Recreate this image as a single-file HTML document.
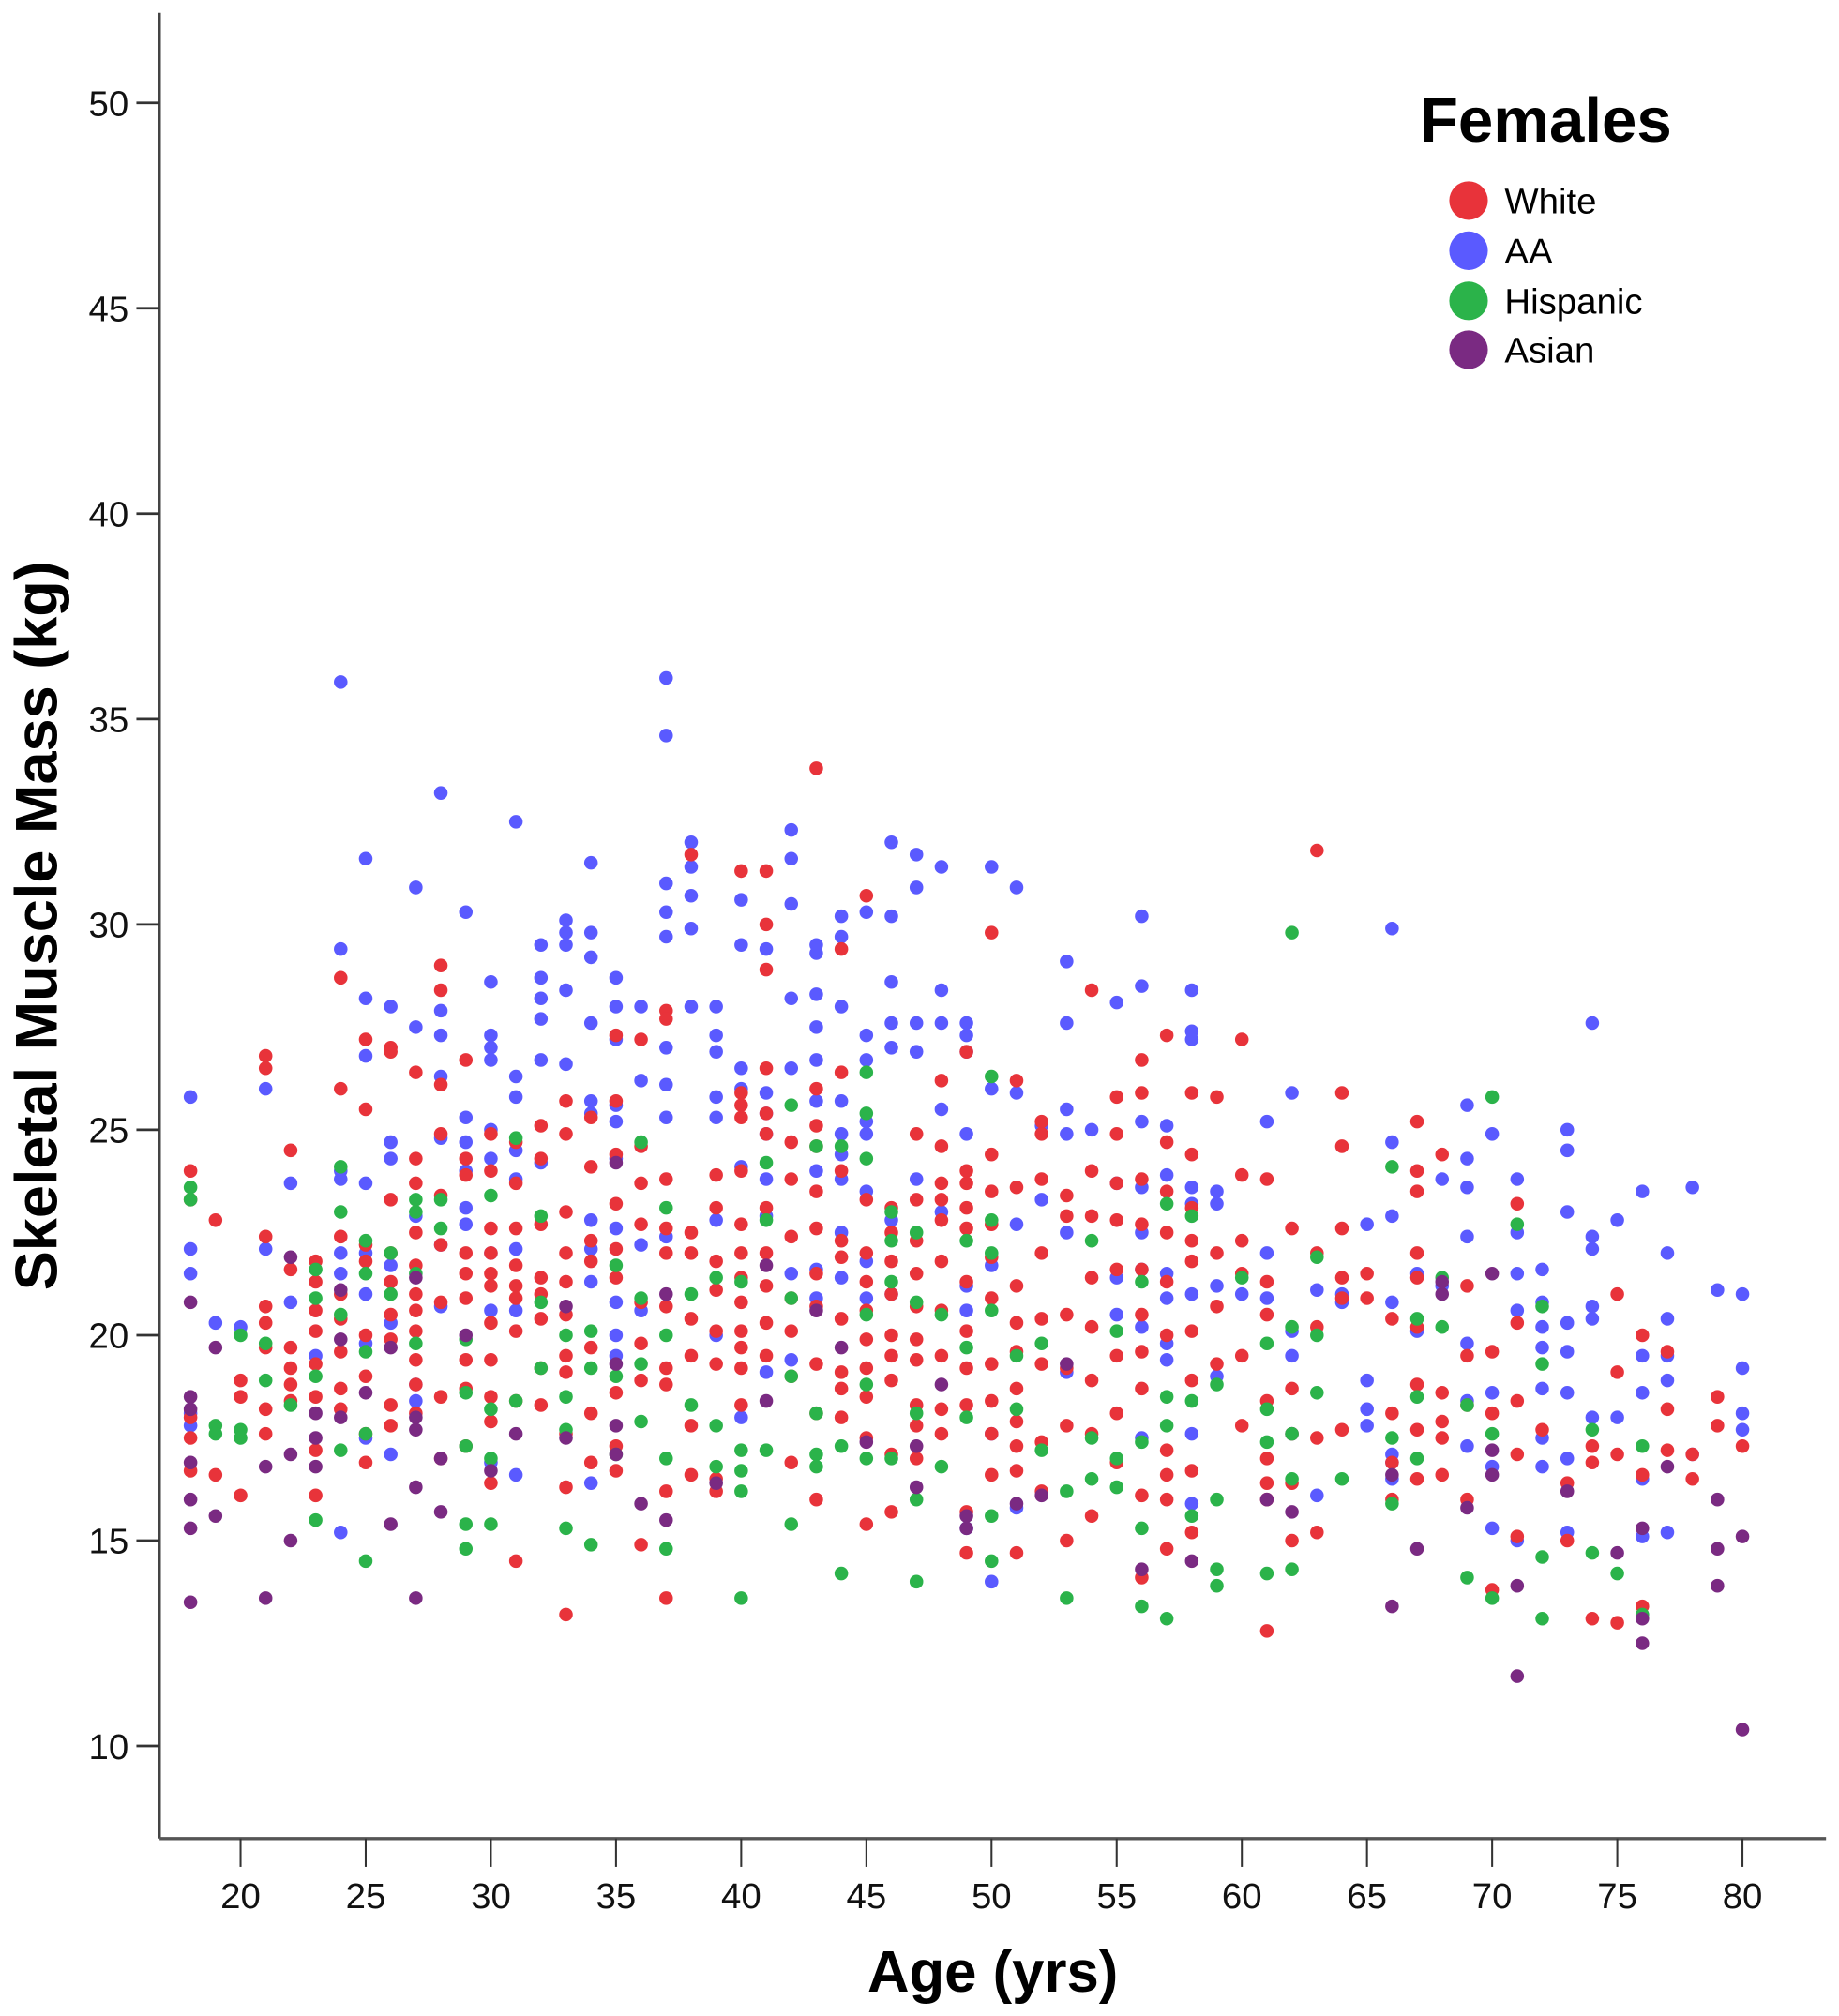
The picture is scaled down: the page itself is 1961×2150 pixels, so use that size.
<!DOCTYPE html>
<html><head><meta charset="utf-8"><style>
html,body{margin:0;padding:0;background:#fff;}
svg{display:block;font-family:"Liberation Sans",sans-serif;}
</style></head><body>
<svg id="chart" width="1961" height="2150" viewBox="0 0 1430 1568" xmlns="http://www.w3.org/2000/svg">
<g id="axes"></g>
<g id="points"></g>
<g id="legend">
<text x="1104" y="110" font-size="49" font-weight="bold">Females</text>
<circle cx="1142" cy="156" r="15" fill="#e8333a"/>
<text x="1170" y="166" font-size="28">White</text>
<circle cx="1142" cy="195" r="15" fill="#5a5aff"/>
<text x="1170" y="205" font-size="28">AA</text>
<circle cx="1142" cy="234" r="15" fill="#2bb34a"/>
<text x="1170" y="244" font-size="28">Hispanic</text>
<circle cx="1142" cy="272" r="15" fill="#7a2a82"/>
<text x="1170" y="282" font-size="28">Asian</text>
</g>
<text x="772" y="1549" font-size="45" font-weight="bold" text-anchor="middle">Age (yrs)</text>
<text transform="translate(44,720) rotate(-90)" font-size="46" font-weight="bold" text-anchor="middle">Skeletal Muscle Mass (kg)</text>
</svg>
<script>
const xTicks = [20,25,30,35,40,45,50,55,60,65,70,75,80];
const yTicks = [10,15,20,25,30,35,40,45,50];
const whiteData = [[18,[24.0,23.3,18.0,17.5,16.7]],[19,[22.8,16.6]],[20,[18.9,18.5,16.1]],[21,[26.8,26.5,22.4,20.7,20.3,19.7,18.2,17.6]],[22,[24.5,21.6,19.7,19.2,18.8,18.4]],[23,[21.8,21.3,20.6,20.1,19.3,18.5,17.2,16.1]],[24,[28.7,26.0,22.4,21.0,20.4,19.6,18.7,18.2]],[25,[27.2,25.5,22.2,21.8,20.0,19.0,17.6,16.9]],[26,[27.0,26.9,23.3,22.0,21.3,20.5,19.9,18.3,17.8]],[27,[26.4,24.3,23.7,22.5,21.7,21.0,20.6,20.1,19.4,18.8,18.1]],[28,[29.0,28.4,26.1,24.9,23.4,22.2,20.8,18.5,17.0]],[29,[26.7,24.3,23.9,22.0,21.5,20.9,19.4,18.7,17.3]],[30,[24.9,24.0,22.6,22.0,21.5,21.2,20.3,19.4,18.5,17.9,16.4]],[31,[24.7,23.7,22.6,21.7,21.2,20.9,20.1,18.4,14.5]],[32,[25.1,24.3,22.7,21.4,21.0,20.4,19.2,18.3]],[33,[25.7,24.9,23.0,22.0,21.3,20.5,19.5,19.1,17.6,16.3,13.2]],[34,[25.3,24.1,22.3,21.8,19.7,18.1,16.9]],[35,[27.3,25.7,24.4,23.2,22.1,21.4,18.6,17.3,16.7]],[36,[27.2,24.6,23.7,22.7,20.8,19.8,18.9,14.9]],[37,[27.9,27.7,23.8,22.6,22.0,20.7,19.2,18.8,16.2,13.6]],[38,[31.7,22.5,22.0,20.4,19.5,17.8,16.6]],[39,[23.9,23.1,21.8,21.1,20.1,19.3,16.5,16.2]],[40,[31.3,25.9,25.6,25.3,24.0,22.7,22.0,21.4,20.8,20.1,19.7,19.2,18.3]],[41,[31.3,30.0,28.9,26.5,25.4,24.9,23.1,22.0,21.2,20.3,19.5]],[42,[24.7,23.8,22.4,20.9,20.1,19.0,16.9]],[43,[33.8,26.0,25.1,24.6,23.5,22.6,21.5,20.7,19.3,18.1,16.0]],[44,[29.4,26.4,24.0,22.3,21.9,20.4,19.1,18.7,18.0]],[45,[30.7,23.3,22.0,21.3,20.6,19.9,19.2,18.5,17.5,15.4]],[46,[23.1,22.5,21.8,21.0,20.0,19.5,18.9,17.1,15.7]],[47,[24.9,23.3,22.3,21.5,20.7,19.9,19.4,18.3,17.8,17.0]],[48,[26.2,24.6,23.7,23.3,22.8,21.8,20.6,19.5,18.2,17.6]],[49,[26.9,24.0,23.7,23.1,22.6,21.3,20.1,19.2,18.3,15.7,14.7]],[50,[29.8,24.4,23.5,22.7,21.9,20.9,19.3,18.4,17.6,16.6]],[51,[26.2,23.6,21.2,20.3,19.6,18.7,17.9,17.3,16.7,14.7]],[52,[25.2,24.9,23.8,22.0,20.4,19.3,17.4,16.2]],[53,[23.4,22.9,20.5,19.2,17.8,15.0]],[54,[28.4,24.0,22.9,21.4,20.2,18.9,17.6,15.6]],[55,[25.8,24.9,23.7,22.8,21.6,19.5,18.1,16.9]],[56,[26.7,25.9,23.8,22.7,21.6,20.5,19.6,18.7,16.1,14.1]],[57,[27.3,24.7,23.5,22.5,21.3,20.0,17.2,16.6,16.0,14.8]],[58,[25.9,24.4,23.1,22.3,21.8,20.1,18.9,16.7,15.2]],[59,[25.8,22.0,20.7,19.3]],[60,[27.2,23.9,22.3,21.5,19.5,17.8]],[61,[23.8,21.3,20.5,18.4,17.0,16.4,16.0,12.8]],[62,[22.6,18.7,17.6,16.4,15.0]],[63,[31.8,22.0,20.2,17.5,15.2]],[64,[25.9,24.6,22.6,21.4,20.9,17.7]],[65,[21.5,20.9]],[66,[20.4,18.1,16.9,16.0]],[67,[25.2,24.0,23.5,22.0,21.4,20.2,18.8,17.7,16.5]],[68,[24.4,18.6,17.9,17.5,16.6]],[69,[21.2,19.5,18.3,16.0]],[70,[19.6,18.1,13.8]],[71,[23.2,20.3,18.4,17.1,15.1]],[72,[17.7]],[73,[16.4,15.0]],[74,[17.3,16.9,13.1]],[75,[21.0,19.1,17.1,13.0]],[76,[20.0,16.6,13.4]],[77,[19.6,18.2,17.2]],[78,[17.1,16.5]],[79,[18.5,17.8]],[80,[17.3]]];
const aaData = [[18,[25.8,22.1,21.5,18.1,17.8]],[19,[20.3]],[20,[20.2]],[21,[26.0,22.1]],[22,[23.7,20.8]],[23,[19.5]],[24,[35.9,29.4,24.0,23.8,22.0,21.5,15.2]],[25,[31.6,28.2,26.8,23.7,22.0,21.0,19.8,17.5]],[26,[28.0,24.7,24.3,21.7,20.3,17.1]],[27,[30.9,27.5,22.9,18.8,18.4]],[28,[33.2,27.9,27.3,26.3,24.8,22.2,20.7]],[29,[30.3,25.3,24.7,24.0,23.1,22.7]],[30,[28.6,27.3,27.0,26.7,25.0,24.3,22.0,20.6,16.9]],[31,[32.5,26.3,25.8,24.5,23.8,22.1,20.6,16.6]],[32,[29.5,28.7,28.2,27.7,26.7,24.2]],[33,[30.1,29.8,29.5,28.4,26.6]],[34,[31.5,29.8,29.2,27.6,25.7,25.4,22.8,22.1,21.3,16.4]],[35,[28.7,28.0,27.2,25.6,25.2,24.3,22.6,20.8,20.0,19.5]],[36,[28.0,26.2,22.2,20.6]],[37,[36.0,34.6,31.0,30.3,29.7,27.0,26.1,25.3,22.4]],[38,[32.0,31.4,30.7,29.9,28.0]],[39,[28.0,27.3,26.9,25.8,25.3,22.8,20.0]],[40,[30.6,29.5,26.5,26.0,24.1,18.0]],[41,[29.4,25.9,25.4,24.9,23.8,22.9,19.1]],[42,[32.3,31.6,30.5,28.2,26.5,21.5,19.4]],[43,[29.5,29.3,28.3,27.5,26.7,25.7,24.0,21.6,20.9]],[44,[30.2,29.7,28.0,25.7,24.9,24.4,23.8,22.5,21.4]],[45,[30.3,27.3,26.7,25.2,24.9,23.5,21.8,20.9]],[46,[32.0,30.2,28.6,27.6,27.0,22.8,21.0]],[47,[31.7,30.9,27.6,26.9,23.8]],[48,[31.4,28.4,27.6,25.5,23.0]],[49,[27.6,27.3,26.9,24.9,21.2,20.6,15.3]],[50,[31.4,26.0,21.7,17.6,14.0]],[51,[30.9,25.9,22.7,15.8]],[52,[25.1,23.3]],[53,[29.1,27.6,25.5,24.9,22.5,19.1]],[54,[25.0]],[55,[28.1,23.7,21.4,20.5]],[56,[30.2,28.5,25.2,23.6,22.5,21.6,20.2,17.5]],[57,[25.1,23.9,21.5,20.9,19.8,19.4]],[58,[28.4,27.4,27.2,23.6,23.2,21.0,17.6,15.9]],[59,[23.5,23.2,21.2,19.0]],[60,[21.0]],[61,[25.2,22.0,20.9]],[62,[25.9,20.1,19.5,17.6]],[63,[21.1,16.1]],[64,[21.0,20.8]],[65,[22.7,18.9,18.2,17.8]],[66,[29.9,24.7,22.9,20.8,17.1,16.9,16.5]],[67,[21.5,20.1]],[68,[23.8,21.2]],[69,[25.6,24.3,23.6,22.4,19.8,18.4,17.3]],[70,[24.9,18.6,16.8,15.3]],[71,[23.8,22.5,21.5,20.6,15.0]],[72,[21.6,20.8,20.2,19.7,18.7,16.8,17.5]],[73,[25.0,24.5,23.0,20.3,19.6,18.6,17.0,15.2]],[74,[27.6,22.4,22.1,20.7,20.4,18.0]],[75,[22.8,18.0]],[76,[23.5,19.5,18.6,16.5,15.1]],[77,[22.0,20.4,19.5,18.9,15.2]],[78,[23.6,17.1]],[79,[21.1]],[80,[21.0,19.2,18.1,17.7]]];
const hispanicData = [[18,[23.6,23.3]],[19,[17.8,17.6]],[20,[17.7,17.5,20.0]],[21,[19.8,18.9]],[22,[18.3]],[23,[21.6,20.9,19.0,15.5]],[24,[24.1,23.0,20.5,17.2]],[25,[22.3,21.5,19.6,17.6,14.5]],[26,[22.0,21.0]],[27,[23.3,23.0,21.5,19.8]],[28,[23.3,22.6]],[29,[19.9,18.6,17.3,15.4,14.8]],[30,[23.4,18.2,17.0,15.4]],[31,[24.8,18.4]],[32,[22.9,20.8,19.2]],[33,[20.0,18.5,17.7,15.3]],[34,[20.1,19.2,14.9]],[35,[21.7,19.0,17.1]],[36,[24.7,20.9,19.3,17.9]],[37,[23.1,20.0,17.0,14.8]],[38,[21.0,18.3]],[39,[21.4,17.8,16.8]],[40,[21.3,17.2,16.7,16.2,13.6]],[41,[24.2,22.8,17.2]],[42,[25.6,20.9,19.0,15.4]],[43,[24.6,18.1,17.1,16.8]],[44,[24.6,17.3,14.2]],[45,[26.4,25.4,24.3,20.5,18.8,17.0]],[46,[23.0,22.3,21.3,17.0]],[47,[22.5,20.8,18.1,16.0,14.0]],[48,[20.5,16.8]],[49,[22.3,19.7,18.0]],[50,[26.3,22.8,22.0,20.6,15.6,14.5]],[51,[19.5,18.2]],[52,[19.8,17.2]],[53,[16.2,13.6]],[54,[22.3,17.5,16.5]],[55,[20.1,17.0,16.3]],[56,[21.3,17.4,15.3,13.4]],[57,[23.2,18.5,17.8,13.1]],[58,[22.9,18.4,15.6]],[59,[14.3,13.9,16.0,18.8]],[60,[21.4]],[61,[19.8,18.2,17.4,14.2]],[62,[29.8,20.2,17.6,16.5,14.3]],[63,[21.9,20.0,18.6]],[64,[16.5]],[66,[24.1,17.5,15.9]],[67,[20.4,18.5,17.0]],[68,[21.4,20.2]],[69,[18.3,14.1]],[70,[25.8,17.6,13.6]],[71,[22.7]],[72,[20.7,19.3,14.6,13.1]],[74,[17.7,14.7]],[75,[14.2]],[76,[17.3,13.2]]];
const asianData = [[18,[20.8,18.5,18.2,16.9,16.0,15.3,13.5]],[19,[19.7,15.6]],[21,[16.8,13.6]],[22,[21.9,17.1,15.0]],[23,[18.1,17.5,16.8]],[24,[21.1,19.9,18.0]],[25,[18.6]],[26,[19.7,15.4]],[27,[21.4,18.0,17.7,16.3,13.6]],[28,[17.0,15.7]],[29,[20.0]],[30,[16.7]],[31,[17.6]],[33,[20.7,17.5]],[35,[24.2,19.3,17.8,17.1]],[36,[15.9]],[37,[21.0,15.5]],[39,[16.4]],[41,[21.7,18.4]],[43,[20.6]],[44,[19.7]],[45,[17.4]],[47,[16.3,17.3]],[48,[18.8]],[49,[15.6,15.3]],[51,[15.9]],[52,[16.1]],[53,[19.3]],[56,[14.3]],[58,[14.5]],[61,[16.0]],[62,[15.7]],[66,[16.6,13.4]],[67,[14.8]],[68,[21.3,21.0]],[69,[15.8]],[70,[21.5,17.2,16.6]],[71,[11.7,13.9]],[73,[16.2]],[75,[14.7]],[76,[15.3,13.1,12.5]],[77,[16.8]],[79,[16.0,14.8,13.9]],[80,[15.1,10.4]]];

const NS = "http://www.w3.org/2000/svg";
const X0 = 124, Y0 = 1430;
function xScale(a){ return 187 + (a - 20) * (1355 - 187) / 60; }
function yScale(v){ return 1358 - (v - 10) * (1358 - 80) / 40; }
function mk(tag, attrs, parent){
  const e = document.createElementNS(NS, tag);
  for (const k in attrs) e.setAttribute(k, attrs[k]);
  parent.appendChild(e); return e;
}
const axes = document.getElementById('axes');
const yl = mk('line', {x1:X0, y1:10, x2:X0, y2:Y0, stroke:'#444', 'stroke-width':2}, axes);


const xl = mk('line', {x1:X0, y1:Y0, x2:1420, y2:Y0, stroke:'#555', 'stroke-width':2.5}, axes);


yTicks.forEach(t => {
  const y = yScale(t);
  const tk = mk('line', {x1:X0-18, y1:y, x2:X0, y2:y, stroke:'#333', 'stroke-width':2}, axes);
  
  
  const tx = mk('text', {x:X0-24, y:y+10, 'font-size':28, 'text-anchor':'end', fill:'#111'}, axes);
  tx.textContent = t;
  
  
});
xTicks.forEach(t => {
  const x = xScale(t);
  const tk = mk('line', {x1:x, y1:Y0, x2:x, y2:Y0+22, stroke:'#333', 'stroke-width':1.5}, axes);
  
  
  const tx = mk('text', {x:x, y:Y0+54, 'font-size':28, 'text-anchor':'middle', fill:'#111'}, axes);
  tx.textContent = t;
  
  
});
const pts = document.getElementById('points');
const groups = [['aa', aaData, '#5a5aff'], ['white', whiteData, '#e8333a'], ['hispanic', hispanicData, '#2bb34a'], ['asian', asianData, '#7a2a82']];
groups.forEach(([name, data, col]) => {
  data.forEach(([age, vals]) => {
    vals.forEach(v => {
      const c = mk('circle', {cx:xScale(age), cy:yScale(v), r:5.3, fill:col}, pts);
      
      
    });
  });
});
</script>
</body></html>
